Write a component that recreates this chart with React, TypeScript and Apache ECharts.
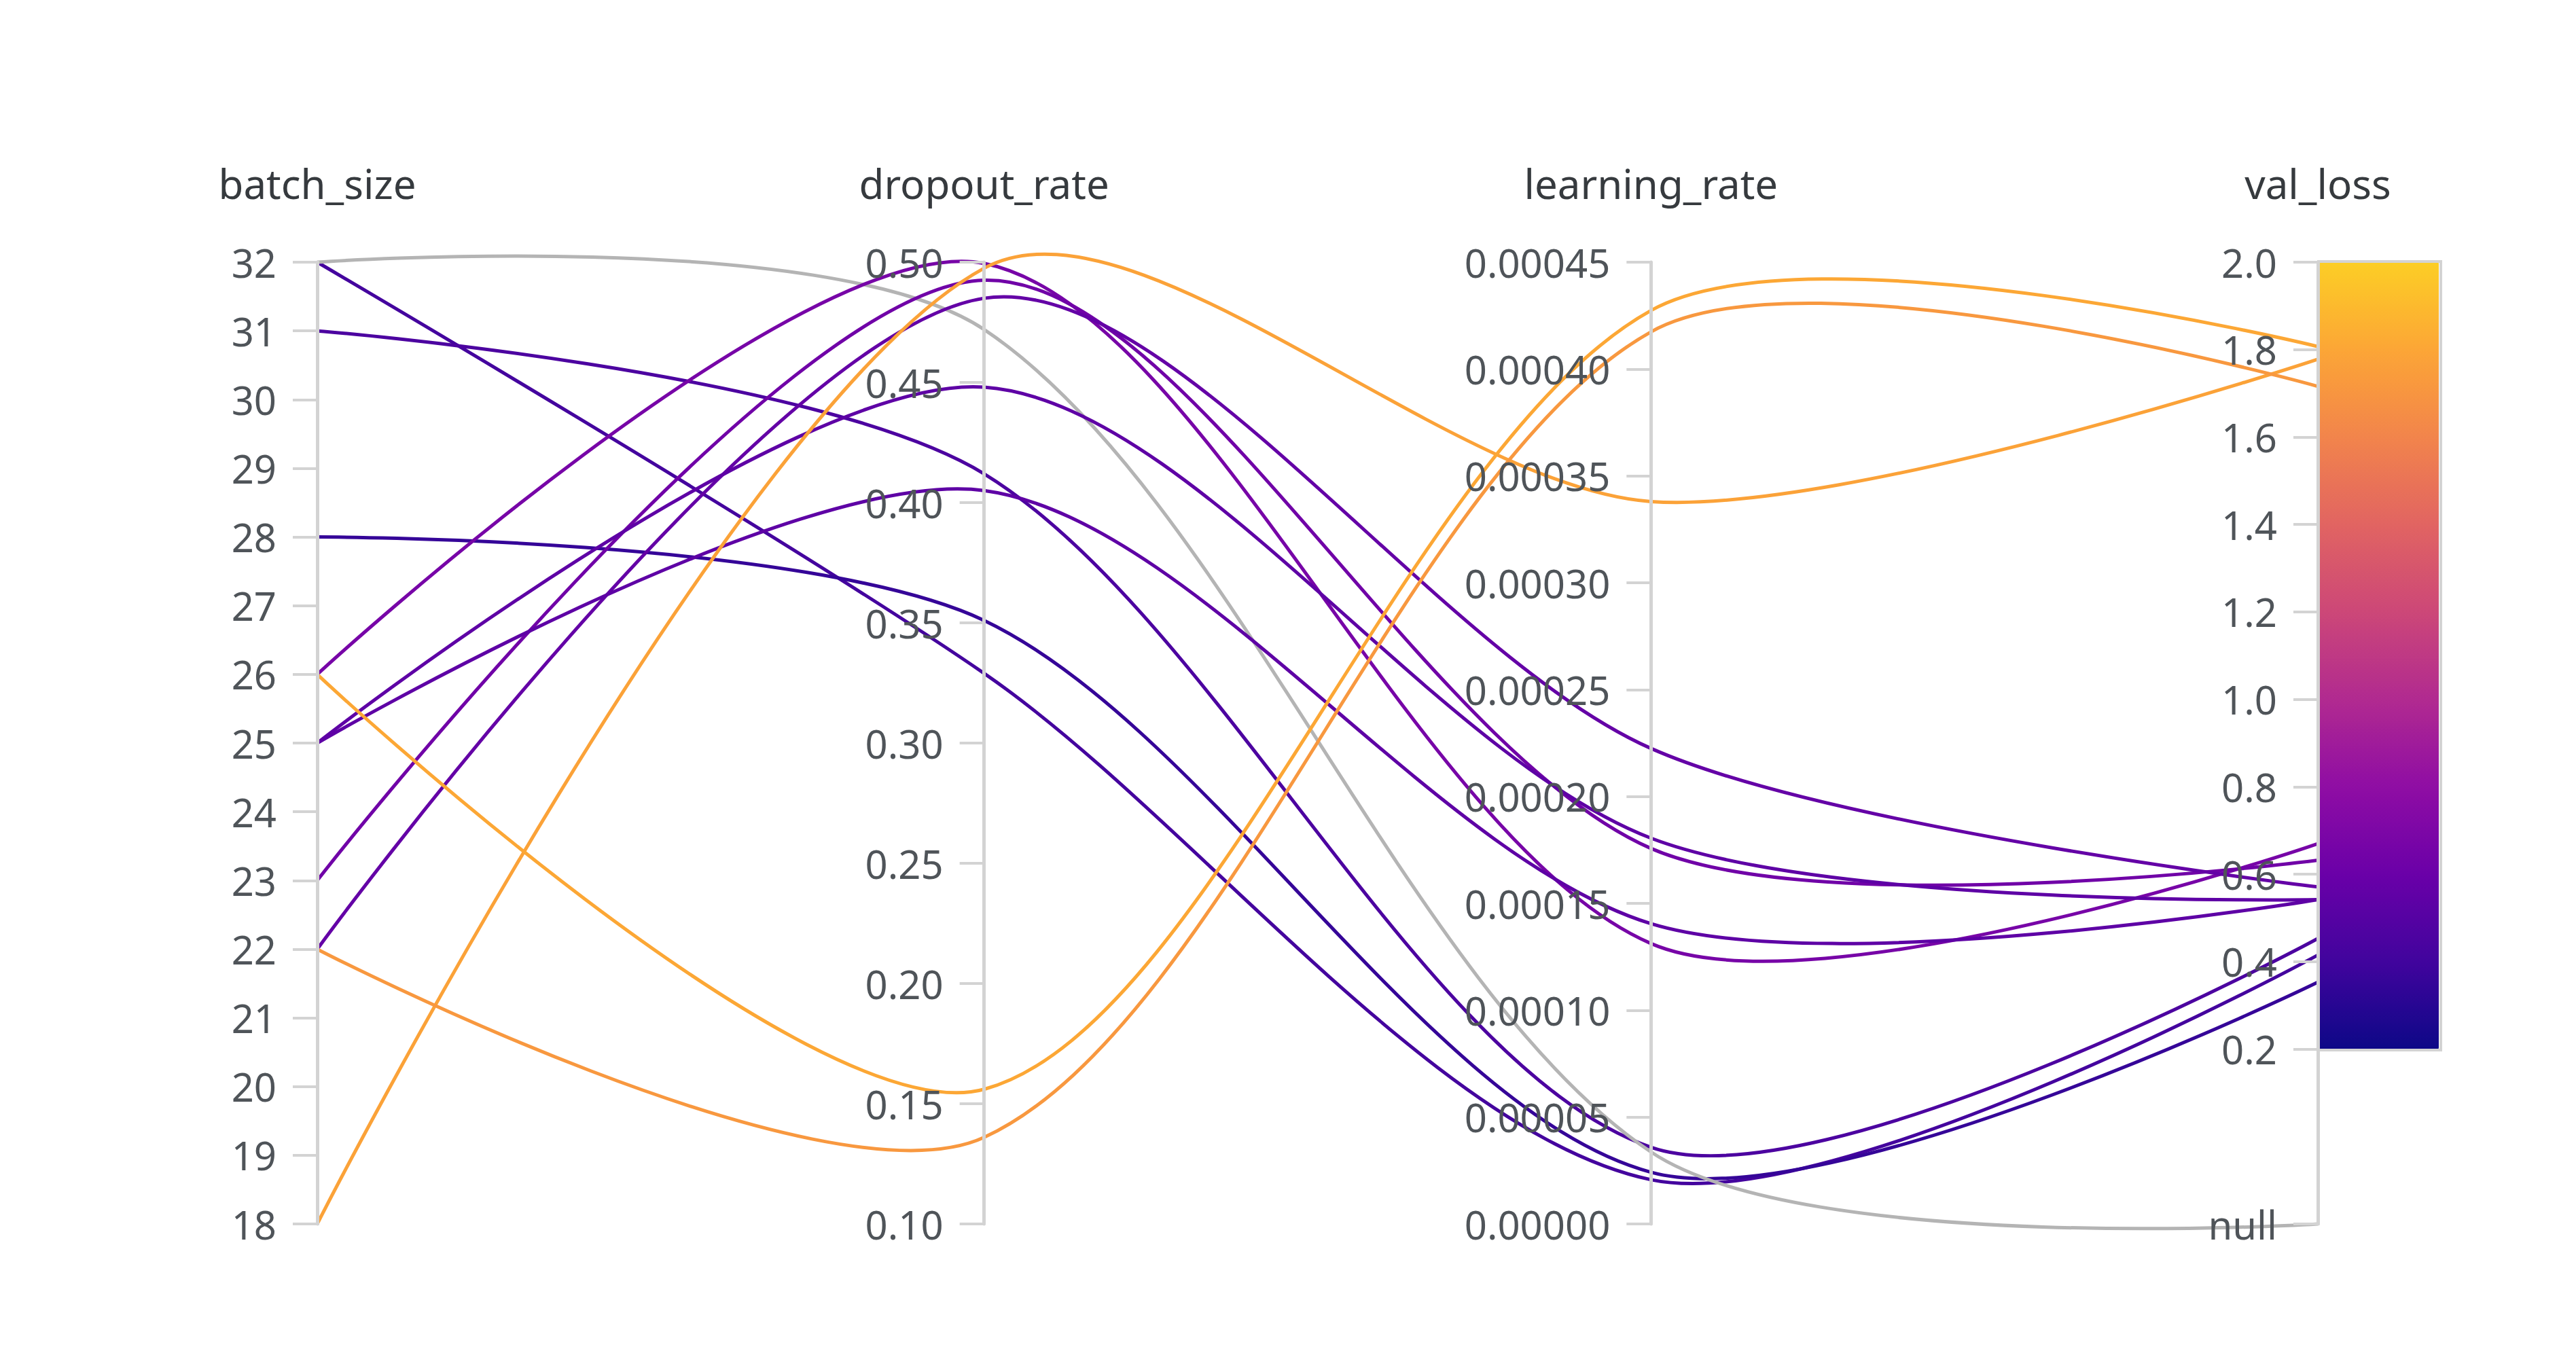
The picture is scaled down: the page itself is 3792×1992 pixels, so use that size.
import React, { useEffect, useRef } from 'react';
import * as echarts from 'echarts';

// ---- data ----
const dimensionNames = ['batch_size', 'dropout_rate', 'learning_rate', 'val_loss'];

const batchSize = [32, 31, 28, 32, 26, 23, 22, 25, 25, 18, 26, 22];
const dropoutRate = [0.329, 0.412, 0.351, 0.472, 0.4995, 0.4925, 0.485, 0.448, 0.405, 0.4975, 0.156, 0.136];
const learningRate = [0.0000207, 0.0000359, 0.0000242, 0.0000337, 0.0001312, 0.0001757, 0.0002225, 0.0001805, 0.0001405, 0.000338, 0.0004274, 0.0004174];
const valLoss: (number | null)[] = [0.415, 0.453, 0.353, null, 0.670, 0.632, 0.571, 0.542, 0.542, 1.778, 1.807, 1.716];

// where "null" sits on the val_loss axis
const NULL_VALUE = -0.2;
const valLossTicks = [-0.2, 0.2, 0.4, 0.6, 0.8, 1.0, 1.2, 1.4, 1.6, 1.8, 2.0];

const plasma = ['#0d0887', '#41049d', '#6a00a8', '#8f0da4', '#b12a90', '#cc4778', '#e16462', '#f2844b', '#fca636', '#fcce25'];

const LABEL_COLOR = '#4f5459';
const NAME_COLOR = '#363a3e';
const AXIS_COLOR = '#d3d3d3';
const NULL_COLOR = '#b4b4b4';
const FONT = '"Noto Sans", "Open Sans", sans-serif';

export default function App() {
  const ref = useRef<HTMLDivElement>(null);

  useEffect(() => {
    if (!ref.current) return;
    const chart = echarts.init(ref.current, undefined, { renderer: 'svg' });

    const seriesData = batchSize.map((b, i) => [
      b,
      dropoutRate[i],
      learningRate[i],
      valLoss[i] === null ? NULL_VALUE : (valLoss[i] as number),
    ]);

    // parallel axes always put ticks/labels on the right; flip them to the left
    const axisCommon = {
      nameLocation: 'end',
      nameGap: 86,
      nameTextStyle: { fontSize: 60, color: NAME_COLOR, fontFamily: FONT },
      axisLine: { show: true, lineStyle: { color: AXIS_COLOR, width: 5 } },
      axisTick: { show: true, length: -36, lineStyle: { color: AXIS_COLOR, width: 4 } },
      axisLabel: { margin: -60, align: 'right', fontSize: 58, color: LABEL_COLOR, fontFamily: FONT },
      splitLine: { show: false },
    };

    const option: any = {
      animation: false,
      backgroundColor: '#ffffff',
      parallel: {
        left: 467,
        right: 380,
        top: 386,
        bottom: 190,
      },
      parallelAxis: [
        {
          dim: 0,
          name: dimensionNames[0],
          type: 'value',
          min: 18,
          max: 32,
          interval: 1,
          ...axisCommon,
          axisLabel: { ...axisCommon.axisLabel, formatter: (v: number) => String(Math.round(v)) },
        },
        {
          dim: 1,
          name: dimensionNames[1],
          type: 'value',
          min: 0.1,
          max: 0.5,
          interval: 0.05,
          ...axisCommon,
          axisLabel: { ...axisCommon.axisLabel, formatter: (v: number) => v.toFixed(2) },
        },
        {
          dim: 2,
          name: dimensionNames[2],
          type: 'value',
          min: 0,
          max: 0.00045,
          interval: 0.00005,
          ...axisCommon,
          axisLabel: { ...axisCommon.axisLabel, formatter: (v: number) => v.toFixed(5) },
        },
        {
          dim: 3,
          name: dimensionNames[3],
          type: 'value',
          min: NULL_VALUE,
          max: 2.0,
          interval: 0.2,
          ...axisCommon,
          axisTick: { ...axisCommon.axisTick, customValues: valLossTicks },
          axisLabel: {
            ...axisCommon.axisLabel,
            customValues: valLossTicks,
            formatter: (v: number) => {
              if (Math.abs(v - NULL_VALUE) < 1e-9) return 'null';
              if (v < 0.15) return '';
              return v.toFixed(1);
            },
          },
        },
      ],
      visualMap: {
        type: 'continuous',
        seriesIndex: 0,
        dimension: 3,
        min: 0.2,
        max: 2.0,
        range: [0.2 + 1e-6, 2.0],
        calculable: false,
        realtime: false,
        hoverLink: false,
        left: 3414,
        top: 386,
        padding: 0,
        itemWidth: 176,
        itemHeight: 1159,
        text: null,
        showLabel: false,
        inRange: { color: plasma },
        outOfRange: { color: NULL_COLOR },
        textStyle: { color: 'transparent' },
      },
      graphic: [
        {
          type: 'rect',
          z: 100,
          silent: true,
          shape: { x: 3413, y: 385, width: 180, height: 1161 },
          style: { fill: 'none', stroke: AXIS_COLOR, lineWidth: 4 },
        },
      ],
      series: [
        {
          type: 'parallel',
          smooth: 0.3,
          lineStyle: { width: 5, opacity: 1 },
          emphasis: { disabled: true },
          data: seriesData,
        },
      ],
    };

    chart.setOption(option);
    return () => chart.dispose();
  }, []);

  return (
    <div
      ref={ref}
      style={{ position: 'fixed', left: 0, top: 0, width: 3792, height: 1992, background: '#ffffff' }}
    />
  );
}
